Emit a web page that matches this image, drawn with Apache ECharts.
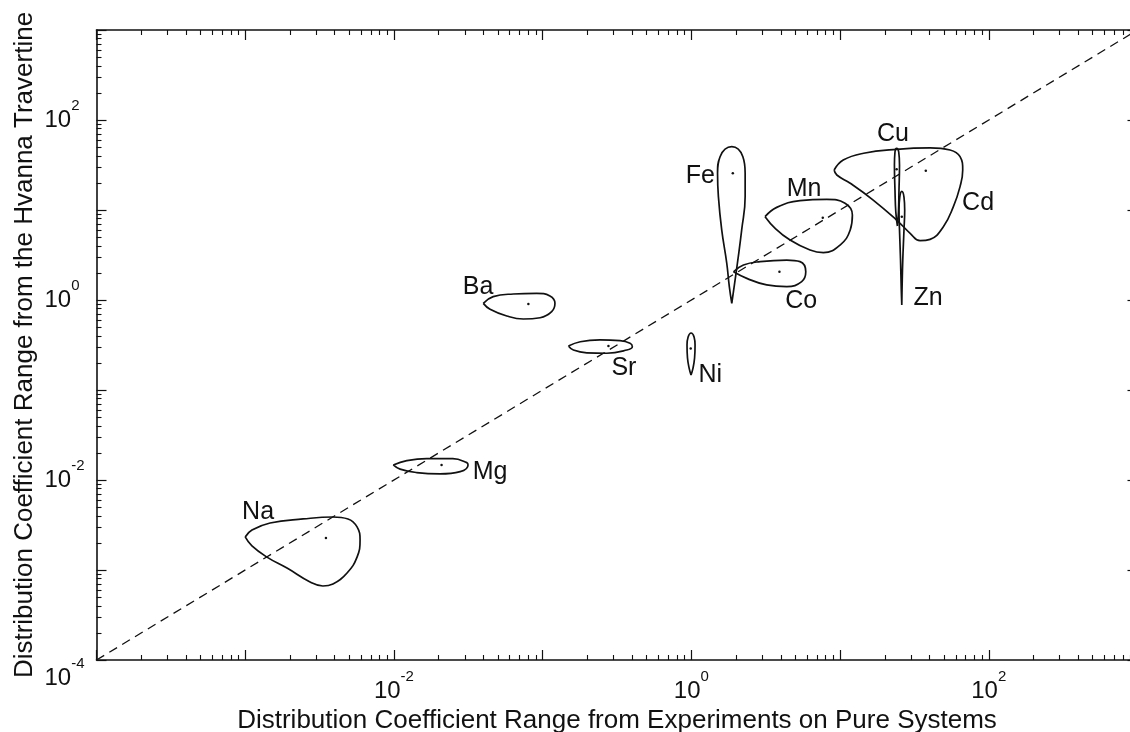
<!DOCTYPE html>
<html><head><meta charset="utf-8">
<script src="https://cdn.jsdelivr.net/npm/echarts@6/dist/echarts.min.js"></script>
<style>html,body{margin:0;padding:0;background:#fff}#c{width:1130px;height:732px}</style>
</head><body><div id="c"></div>
<script>
// ---- data (x = pure-system coefficient, y = travertine coefficient)
const elements = ['Na','Mg','Ba','Sr','Ni','Fe','Co','Mn','Cu','Cd','Zn'];

const naLoop = [[1.0e-3,2.33e-3],[1.11e-3,1.85e-3],[1.40e-3,1.39e-3],[1.91e-3,1.05e-3],[2.73e-3,7.36e-4],[3.33e-3,6.64e-4],[3.89e-3,6.99e-4],[4.84e-3,9.27e-4],[5.65e-3,1.39e-3],[5.92e-3,2.15e-3],[5.65e-3,3.01e-3],[4.91e-3,3.69e-3],[3.89e-3,3.88e-3],[2.45e-3,3.69e-3],[1.47e-3,3.33e-3],[1.11e-3,2.78e-3]];
const mgLoop = [[9.9e-3,1.47e-2],[1.22e-2,1.64e-2],[1.66e-2,1.73e-2],[2.49e-2,1.73e-2],[3.09e-2,1.56e-2],[3.15e-2,1.47e-2],[2.79e-2,1.24e-2],[2.04e-2,1.17e-2],[1.42e-2,1.21e-2],[1.10e-2,1.32e-2]];
const baLoop = [[3.99e-2,0.918],[4.65e-2,1.089],[6.35e-2,1.166],[9.12e-2,1.186],[0.112,1.107],[0.121,0.918],[0.115,0.741],[9.62e-2,0.635],[7.41e-2,0.615],[5.74e-2,0.664],[4.43e-2,0.789]];
const srLoop = [[0.149,0.308],[0.179,0.344],[0.243,0.360],[0.331,0.353],[0.387,0.330],[0.401,0.303],[0.368,0.278],[0.270,0.256],[0.198,0.259],[0.161,0.278]];
const niLoop = [[0.995,0.147],[1.026,0.175],[1.051,0.227],[1.059,0.316],[1.043,0.388],[0.995,0.430],[0.951,0.388],[0.935,0.316],[0.942,0.227],[0.966,0.175]];
const feLoop = [[1.87,0.918],[1.94,1.41],[2.04,2.56],[2.18,6.00],[2.30,14.1],[2.30,25.6],[2.22,39.1],[1.87,50.5],[1.56,39.1],[1.50,25.6],[1.52,14.1],[1.60,6.00],[1.73,2.56],[1.80,1.41]];
const coLoop = [[1.92,2.06],[2.24,2.45],[2.90,2.67],[4.38,2.78],[5.38,2.67],[5.88,2.06],[5.52,1.60],[4.38,1.41],[3.21,1.47],[2.36,1.74]];
const mnLoop = [[3.13,8.43],[3.75,10.7],[5.38,12.7],[8.15,13.1],[10.8,11.9],[12.1,8.80],[11.7,6.00],[10.0,4.08],[7.72,3.36],[6.28,3.59],[4.61,4.64],[3.66,6.26]];
const cuLoop = [[24.3,6.64],[24.7,9.50],[24.9,16.7],[25.1,31.6],[24.8,44.1],[24.0,48.5],[23.4,44.1],[23.2,31.6],[23.4,16.7],[23.7,9.50]];
const cdLoop = [[9.12,27.8],[10.5,35.9],[14.4,42.7],[24.0,47.2],[40.3,48.9],[54.9,46.4],[64.1,39.1],[66.8,27.8],[64.1,18.2],[57.8,10.9],[49.5,6.52],[40.3,4.72],[34.5,4.56],[29.6,5.51],[24.0,7.74],[16.7,12.9],[11.7,19.8],[9.51,24.5]];
const znLoop = [[26.0,0.880],[26.1,1.29],[26.4,2.78],[26.9,6.00],[27.2,10.0],[26.9,13.9],[26.0,16.1],[25.2,13.9],[24.9,10.0],[25.1,6.00],[25.5,2.78],[25.8,1.29]];

const centers = [[3.49e-3,2.27e-3],[2.09e-2,1.47e-2],[8.02e-2,0.903],[0.277,0.308],[0.99,0.290],[1.90,25.6],[3.91,2.06],[7.65,8.21],[24.0,28.3],[37.7,27.3],[26.0,8.43]];
const labelPos = [[1.22e-3,4.41e-3],[4.43e-2,1.23e-2],[3.68e-2,1.39],[0.352,0.175],[1.34,0.147],[1.15,23.9],[5.47,0.975],[5.73,17.1],[22.7,69.9],[84.7,12.0],[39.1,1.05]];

const identityLine = [[1e-4,1e-4],[1e3,1e3]];
const axisMin = 1e-4, axisMax = 1e3;
const labelledExponents = [-4,-2,0,2];

const xTitle = 'Distribution Coefficient Range from Experiments on Pure Systems';
const yTitle = 'Distribution Coefficient Range from the Hvanna Travertine';

// ---- presentation
const FONT = '"Liberation Sans", Arial, Helvetica, sans-serif';
const INK = '#111111';
const loops = [naLoop,mgLoop,baLoop,srLoop,niLoop,feLoop,coLoop,mnLoop,cuLoop,cdLoop,znLoop];

const rich = {
  b: {fontSize: 24, lineHeight: 44, fontFamily: FONT, color: INK},
  s: {fontSize: 15, verticalAlign: 'top', fontFamily: FONT, color: INK},
  sp: {fontSize: 10, lineHeight: 36, fontFamily: FONT, color: INK}
};
function expOf(v){ return Math.round(Math.log10(v)); }
function xFmt(v){ const e = expOf(v); return labelledExponents.indexOf(e) >= 0 && e !== -4 ? '{b|10}{s|' + e + '}' : ''; }
function yFmt(v){ const e = expOf(v);
  if (labelledExponents.indexOf(e) < 0) return '';
  if (e === -4) return '{sp| }\n{b|10}{s|' + e + '}';
  return '{b|10}{s|' + e + '}'; }

function logAxis(extra){
  return Object.assign({
    type: 'log', logBase: 10, min: axisMin, max: axisMax, interval: 1,
    axisLine: {show: true, lineStyle: {color: INK, width: 1.6}},
    axisTick: {show: true, inside: true, length: 10, lineStyle: {color: INK, width: 1.2}},
    minorTick: {show: true, splitNumber: 9, length: 5, lineStyle: {color: INK, width: 1.1}},
    splitLine: {show: false}, minorSplitLine: {show: false}
  }, extra);
}

const series = [];
series.push({type: 'line', data: identityLine, showSymbol: false, silent: true,
  lineStyle: {color: INK, width: 1.3, type: [9, 6]}, z: 1});
loops.forEach((loop, i) => {
  series.push({type: 'line', name: elements[i], data: loop.concat([loop[0]]), smooth: 0.45,
    showSymbol: false, silent: true, lineStyle: {color: INK, width: 1.7}, z: 2});
});
series.push({type: 'scatter', data: centers, symbolSize: 2.5, itemStyle: {color: INK, opacity: 1}, silent: true, z: 3});
series.push({type: 'scatter', silent: true, z: 4,
  data: labelPos.map((p, i) => ({name: elements[i], value: p})),
  symbolSize: 1, itemStyle: {color: 'rgba(0,0,0,0)', opacity: 1},
  label: {show: true, position: 'inside', formatter: '{b}', fontFamily: FONT, fontSize: 25, color: INK, opacity: 1, textBorderWidth: 0}});

const option = {
  backgroundColor: '#fff',
  animation: false,
  grid: {left: 96.5, right: -7.5, top: 30, bottom: 72, containLabel: false, outerBoundsMode: 'none'},
  xAxis: [
    logAxis({position: 'bottom', name: xTitle, nameLocation: 'middle', nameGap: 48, nameMoveOverlap: false,
      nameTextStyle: {fontFamily: FONT, fontSize: 26, color: INK},
      axisLabel: {show: true, margin: 9, formatter: xFmt, rich: rich, showMinLabel: true, showMaxLabel: true}}),
    logAxis({position: 'top', axisLabel: {show: false}})
  ],
  yAxis: [
    logAxis({position: 'left', name: yTitle, nameLocation: 'middle', nameGap: 59, nameRotate: 90, nameMoveOverlap: false,
      nameTextStyle: {fontFamily: FONT, fontSize: 26, color: INK},
      axisLabel: {show: true, margin: 52, align: 'left', formatter: yFmt, rich: rich, showMinLabel: true, showMaxLabel: true}}),
    logAxis({position: 'right', axisLabel: {show: false}})
  ],
  series: series
};
const chart = echarts.init(document.getElementById('c'), null, {renderer: 'canvas'});
chart.setOption(option);
</script>
</body></html>
